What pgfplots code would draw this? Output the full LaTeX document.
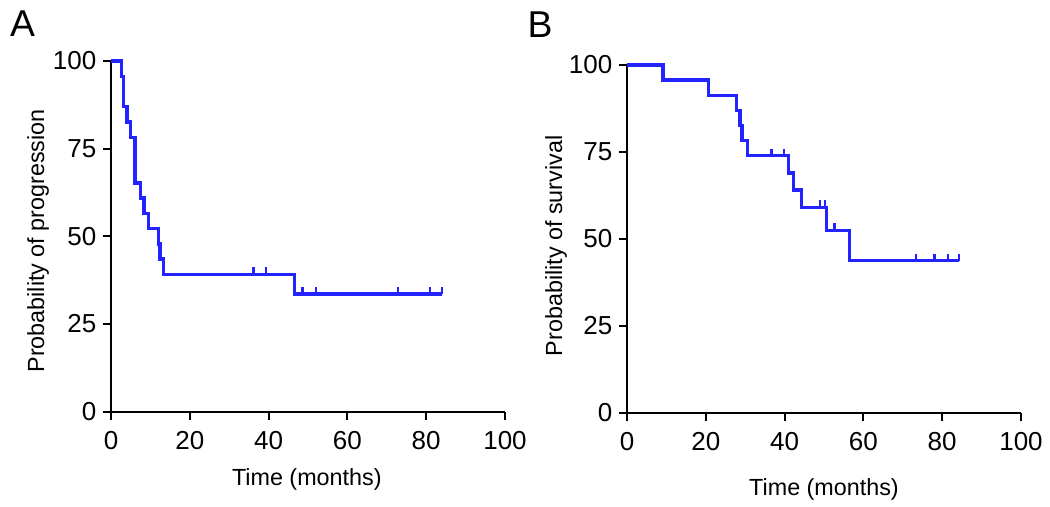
\documentclass[border=0pt]{standalone}
\usepackage{fontspec}
\setmainfont{Liberation Sans}
\usepackage{pgfplots}
\pgfplotsset{compat=1.18}
\definecolor{kmblue}{RGB}{35,35,255}
\pgfplotsset{
  kmaxis/.style={
    scale only axis, width=295.5pt,
    xmin=0, xmax=100, ymin=0, ymax=100,
    axis lines=left, axis line style={-, black, line width=1.5pt},
    xtick={0,20,40,60,80,100}, ytick={0,25,50,75,100},
    tick align=outside, major tick length=6pt,
    tick style={black, line width=1.5pt},
    /pgf/number format/assume math mode=true,
    ticklabel style={font=\fontsize{19.5}{21}\selectfont},
    xticklabel style={yshift=-5pt},
    yticklabel style={xshift=-1.5pt},
    label style={font=\fontsize{17.5}{19}\selectfont},
    clip=false,
  },
  kmline/.style={kmblue, line width=2.5pt, const plot, no marks, line join=miter},
  kmcens/.style={only marks, mark=|, mark size=2.7pt, mark options={kmblue, line width=1.9pt, yshift=2.7pt}},
}
\begin{document}
\begin{tikzpicture}
\path[use as bounding box] (0,0) rectangle (787.5pt,380.25pt);
\node[font=\fontsize{28}{30}\selectfont, inner sep=0pt] at (16.9pt,362.6pt) {A};
\node[font=\fontsize{28}{30}\selectfont, inner sep=0pt] at (405pt,361.5pt) {B};
\begin{axis}[kmaxis, at={(83.25pt,71.6pt)}, anchor=south west, height=262.9pt,
  xlabel={Time (months)}, ylabel={Probability of progression},
  xlabel style={at={(axis description cs:0.497,-0.195)}, anchor=center},
  ylabel style={at={(axis description cs:-0.185,0.487)}, anchor=center},
]
\addplot[kmline] coordinates {
(0,100) (2.7,95.65) (3.1,86.96) (4.1,82.61) (5.0,78.26) (6.1,65.22)
(7.5,60.87) (8.4,56.52) (9.6,52.17) (12.0,47.83) (12.4,43.48) (13.3,39.13)
(46.5,33.54) (84.0,33.54)};
\addplot[kmcens] coordinates {
(36.1,39.13) (39.3,39.13) (48.6,33.54) (52.0,33.54) (72.8,33.54) (81.0,33.54) (84.0,33.54)};
\end{axis}
\begin{axis}[kmaxis, at={(470.25pt,70.5pt)}, anchor=south west, height=261pt,
  xlabel={Time (months)}, ylabel={Probability of survival},
  xlabel style={at={(axis description cs:0.5,-0.22)}, anchor=center},
  ylabel style={at={(axis description cs:-0.18,0.48)}, anchor=center},
]
\addplot[kmline] coordinates {
(0,100) (9.1,95.65) (20.7,91.30) (27.8,86.96) (28.7,82.61) (29.2,78.26)
(30.6,73.91) (41.0,68.99) (42.2,64.06) (44.3,59.13) (50.7,52.5)
(56.4,43.75) (84.3,43.75)};
\addplot[kmcens] coordinates {
(36.7,73.91) (39.9,73.91) (49.0,59.13) (50.3,59.13) (52.6,52.5)
(73.3,43.75) (78.0,43.75) (81.5,43.75) (84.3,43.75)};
\end{axis}
\end{tikzpicture}
\end{document}
